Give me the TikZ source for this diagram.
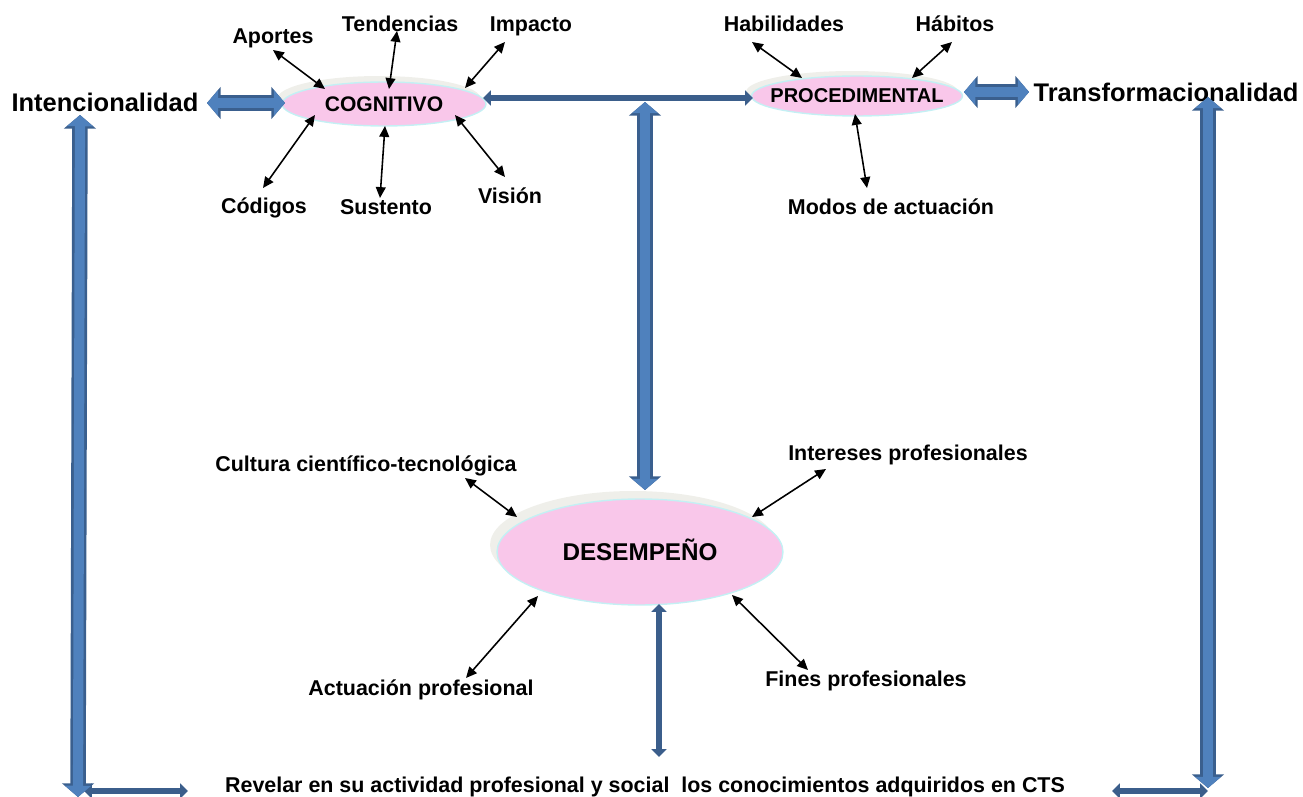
\documentclass[tikz,border=0pt]{standalone}
\usepackage{fontspec}
\setmainfont{Liberation Sans}
\usetikzlibrary{arrows.meta,shapes.geometric}
\definecolor{pinkf}{HTML}{F9C7EA}
\definecolor{cyanb}{HTML}{C4F0F4}
\definecolor{shadowg}{HTML}{EFEFEA}
\definecolor{bfill}{HTML}{4F81BD}
\definecolor{bline}{HTML}{3A5F8E}
\definecolor{dline}{HTML}{3B5E8B}
\begin{document}
\begin{tikzpicture}[x=0.02cm,y=-0.02cm,
 lab/.style={font=\fontsize{12.2}{14}\selectfont\bfseries, inner sep=0pt, anchor=base},
 biglab/.style={font=\fontsize{14.5}{17}\selectfont\bfseries, inner sep=0pt, anchor=base},
 ell/.style={ellipse, fill=pinkf, draw=cyanb, line width=0.8pt, inner sep=0pt},
 tarr/.style={line width=0.9pt, {Triangle[length=6.2pt,width=5.6pt]}-{Triangle[length=6.2pt,width=5.6pt]}},
 blockarr/.style={draw=bfill, line width=5.8pt, {Triangle[width=14.5pt,length=6.4pt]}-{Triangle[width=14.5pt,length=6.4pt]},
   preaction={draw=bline, line width=8.8pt, {Triangle[width=18pt,length=7.8pt]}-{Triangle[width=18pt,length=7.8pt]}}},
 darr/.style={draw=dline, line width=3.8pt, {Triangle[width=8.5pt,length=4.5pt]}-{Triangle[width=8.5pt,length=4.5pt]}},
]
\useasboundingbox (0,0) rectangle (1303,797);

% shadows of the ellipses
\fill[shadowg] (379,99) ellipse [x radius=2.04cm, y radius=0.46cm];
\fill[shadowg] (852,92) ellipse [x radius=2.12cm, y radius=0.42cm];
\fill[shadowg] (633,545) ellipse [x radius=2.86cm, y radius=1.08cm];

% ellipses
\node[ell, minimum width=4.08cm, minimum height=0.88cm, font=\fontsize{12}{14}\selectfont\bfseries] (cog) at (384,104) {COGNITIVO};
\node[ell, minimum width=4.22cm, minimum height=0.80cm] (proc) at (857,96) {};
\node[font=\fontsize{11.4}{14}\selectfont\bfseries, inner sep=0pt] (proct) at (857,96) {PROCEDIMENTAL};
\node[ell, minimum width=5.72cm, minimum height=2.12cm, font=\fontsize{13.8}{16}\selectfont\bfseries, text height=9.9pt, text depth=0pt] (des) at (640,552) {DESEMPEÑO};

% labels
\node[lab] (aportes) at (273,44) {Aportes};
\node[lab] (tend) at (400,32) {Tendencias};
\node[lab] (impacto) at (531,32) {Impacto};
\node[lab] (codigos) at (264,214) {Códigos};
\node[lab] (sustento) at (386,215) {Sustento};
\node[lab] (vision) at (510,204) {Visión};
\node[lab] (habil) at (784,32) {Habilidades};
\node[lab] (habitos) at (955,32) {Hábitos};
\node[lab] (modos) at (891,215) {Modos de actuación};
\node[lab] (cultura) at (366,472) {Cultura científico-tecnológica};
\node[lab] (intereses) at (908,460) {Intereses profesionales};
\node[lab] (actuacion) at (421,695) {Actuación profesional};
\node[lab] (fines) at (866,686) {Fines profesionales};
\node[biglab] (intenc) at (105,112) {Intencionalidad};
\node[biglab] (transf) at (1166,102) {Transformacionalidad};
\node[lab] (revelar) at (645,792) {Revelar en su actividad profesional y social~ los conocimientos adquiridos en CTS};

% arrow end points
\coordinate (a1) at (273,50);  \coordinate (a2) at (325,89);
\coordinate (t1) at (397,31);  \coordinate (t2) at (389,89);
\coordinate (i1) at (505,42);  \coordinate (i2) at (465,88);
\coordinate (c1) at (263,188); \coordinate (c2) at (315,115);
\coordinate (s1) at (380,198); \coordinate (s2) at (385,126);
\coordinate (v1) at (505,177); \coordinate (v2) at (455,115);
\coordinate (h1) at (752,42);  \coordinate (h2) at (802,78);
\coordinate (hb1) at (952,42); \coordinate (hb2) at (912,78);
\coordinate (m1) at (855,114); \coordinate (m2) at (867,188);
\coordinate (cu1) at (465,478); \coordinate (cu2) at (517,517);
\coordinate (in1) at (826,469); \coordinate (in2) at (752,517);
\coordinate (ac1) at (466,678); \coordinate (ac2) at (538,596);
\coordinate (f1) at (808,670); \coordinate (f2) at (732,595);

% thin black arrows
\draw[tarr] (a1) -- (a2);
\draw[tarr] (t1) -- (t2);
\draw[tarr] (i1) -- (i2);
\draw[tarr] (c1) -- (c2);
\draw[tarr] (s1) -- (s2);
\draw[tarr] (v1) -- (v2);
\draw[tarr] (h1) -- (h2);
\draw[tarr] (hb1) -- (hb2);
\draw[tarr] (m1) -- (m2);
\draw[tarr] (cu1) -- (cu2);
\draw[tarr] (in1) -- (in2);
\draw[tarr] (ac1) -- (ac2);
\draw[tarr] (f1) -- (f2);

% block arrow end points
\coordinate (ia) at (207,103); \coordinate (ib) at (285,103);
\coordinate (pa) at (964,92);  \coordinate (pb) at (1029,92);
\coordinate (va) at (645,102); \coordinate (vb) at (645,490);
\coordinate (la) at (80,115);  \coordinate (lb) at (78,797);
\coordinate (ra) at (1208,97); \coordinate (rb) at (1208,788);
\coordinate (ha) at (483,98);  \coordinate (hb) at (753,98);
\coordinate (da) at (659,604); \coordinate (db) at (659,757);
\coordinate (bla) at (84,791); \coordinate (blb) at (188,791);
\coordinate (bra) at (1112,791); \coordinate (brb) at (1208,791);

% dark thin double arrows
\draw[darr] (ha) -- (hb);
\draw[darr] (da) -- (db);
\draw[darr] (bla) -- (blb);
\draw[darr] (bra) -- (brb);

% block arrows
\draw[blockarr] (ia) -- (ib);
\draw[blockarr] (pa) -- (pb);
\draw[blockarr] (va) -- (vb);
\draw[blockarr] (la) -- (lb);
\draw[blockarr] (ra) -- (rb);
\end{tikzpicture}
\end{document}
